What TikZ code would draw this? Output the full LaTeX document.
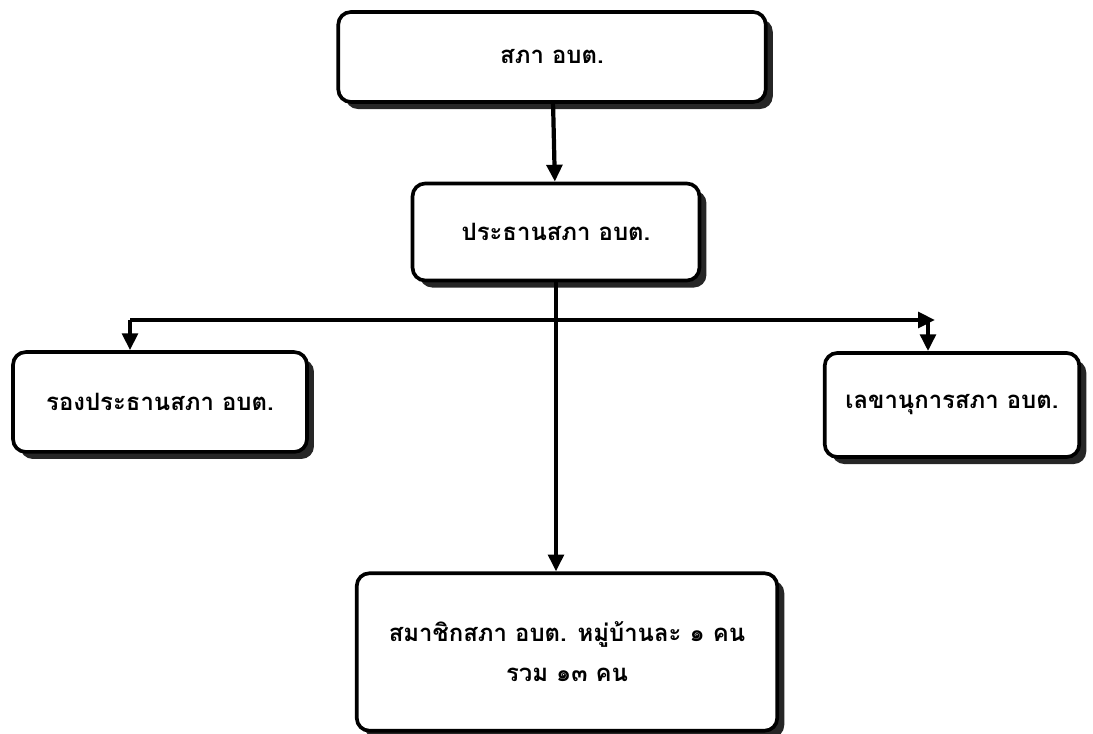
\documentclass[tikz,border=0pt]{standalone}
\usepackage{fontspec}
\newfontfamily\thaifont[Script=Thai]{Loma}
\usetikzlibrary{shadows,arrows.meta}

\tikzset{
  orgbox/.style={draw, line width=2.6pt, rounded corners=9pt, fill=white, align=center,
    inner sep=0pt, font=\thaifont\bfseries\fontsize{17}{28.5}\selectfont,
    drop shadow={shadow xshift=5pt, shadow yshift=-5pt, fill=black, opacity=0.85}},
  orgarrow/.style={line width=3pt, -{Triangle[length=12pt,width=11pt]}}
}

\begin{document}
\begin{tikzpicture}[x=0.025cm, y=-0.025cm]
	\useasboundingbox (0,0) rectangle (1093,734);
	
	\node[orgbox, minimum width=304pt, minimum height=64pt] (sapha) at (552,57) {สภา อบต.};
	\node[orgbox, minimum width=204pt, minimum height=69pt] (prathan) at (556,232) {ประธานสภา อบต.};
	\node[orgbox, minimum width=209pt, minimum height=71pt] (rong) at (160,402) {รองประธานสภา อบต.};
	\node[orgbox, minimum width=181pt, minimum height=74pt] (lekha) at (952,405) {เลขานุการสภา อบต.};
	\node[orgbox, minimum width=299pt, minimum height=112pt] (member) at (567,652)
		{สมาชิกสภา อบต. หมู่บ้านละ ๑ คน\\ รวม ๑๓ คน};
	
	\coordinate (jl) at (130,320);
	\coordinate (jr) at (935,320);
	\coordinate (jd) at (928,320);
	
	\draw[orgarrow] (sapha) -- (prathan);
	\draw[orgarrow] (prathan.south) -- (prathan.south |- member.north);
	\draw[orgarrow] (jl) -- (jr);
	\draw[orgarrow] (jl) -- (jl |- rong.north);
	\draw[orgarrow] (jd) -- (jd |- lekha.north);
\end{tikzpicture}
\end{document}
